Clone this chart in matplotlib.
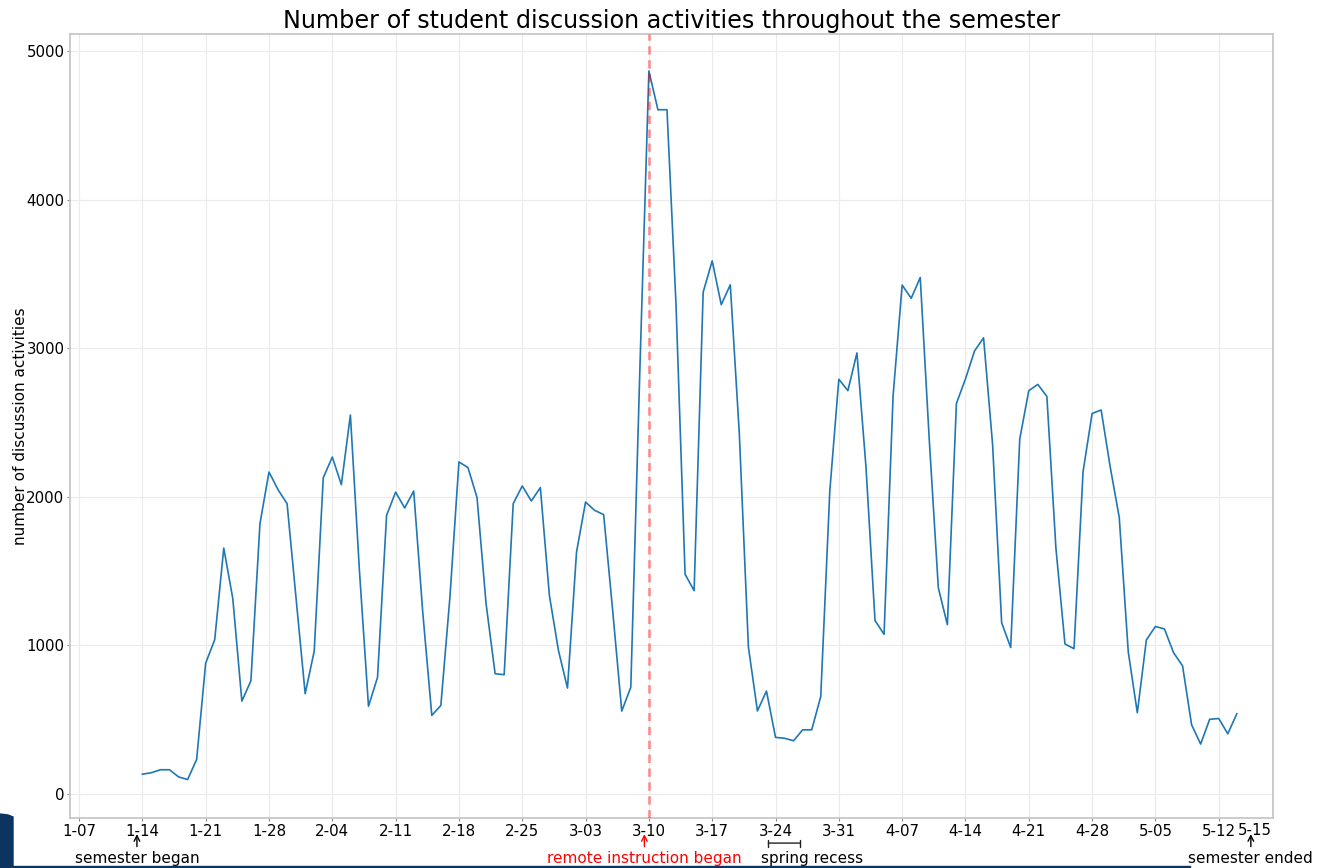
import numpy as np
import pandas as pd
import matplotlib
matplotlib.use('Agg')
import matplotlib.pyplot as plt
import matplotlib.dates as mdates
from matplotlib.patches import Polygon, Rectangle

# daily counts, 2020-01-14 .. 2020-05-14
jan = [130, 140, 160, 160, 112, 94, 229, 878, 1036, 1653, 1312, 622, 759, 1817,
       2165, 2046, 1952, 1310]
feb = [672, 959, 2127, 2266, 2080, 2549, 1500, 588, 782, 1873, 2030, 1923, 2037,
       1220, 526, 593, 1320, 2233, 2195, 1993, 1278, 807, 800, 1952, 2071, 1970,
       2060, 1334, 964]
mar = [710, 1626, 1963, 1907, 1878, 1230, 555, 716, 2850, 4866, 4605, 4605, 3292,
       1477, 1366, 3376, 3587, 3292, 3426, 2421, 988, 556, 690, 378, 372, 355,
       429, 429, 653, 2036, 2790]
apr = [2713, 2967, 2200, 1165, 1072, 2680, 3424, 3335, 3475, 2380, 1385, 1137,
       2627, 2792, 2980, 3069, 2350, 1150, 983, 2387, 2713, 2755, 2674, 1652,
       1007, 975, 2167, 2559, 2583, 2200]
may = [1860, 953, 544, 1034, 1125, 1108, 949, 860, 463, 333, 500, 505, 402, 537]

counts = jan + feb + mar + apr + may
dates = pd.date_range('2020-01-14', periods=len(counts), freq='D')

tick_dates = pd.date_range('2020-01-07', '2020-05-12', freq='7D')
tick_labels = [d.strftime('%-m-%d') for d in tick_dates]

remote_day = pd.Timestamp('2020-03-10')
start_day = pd.Timestamp('2020-01-14')
end_day = pd.Timestamp('2020-05-15')
recess_start = pd.Timestamp('2020-03-23')
recess_end = pd.Timestamp('2020-03-27')

plt.rcParams['font.family'] = 'DejaVu Sans'
fig = plt.figure(figsize=(13.17, 8.68), dpi=100)
ax = fig.add_axes([70 / 1317, 1 - 818 / 868, (1273 - 70) / 1317, (818 - 34) / 868])

ax.plot(dates, counts, color='#1f77b4', lw=1.2, zorder=3)
ax.axvline(remote_day, color='red', alpha=0.4, lw=2, ls=(0, (3, 2)), zorder=4)

ax.set_xlim(mdates.date2num(pd.Timestamp('2020-01-06')), mdates.date2num(pd.Timestamp('2020-05-18')))
ax.set_ylim(-165, 5115)
ax.set_xticks(tick_dates)
ax.set_xticklabels(tick_labels)
ax.set_yticks([0, 1000, 2000, 3000, 4000, 5000])
ax.tick_params(labelsize=10.8, length=2, pad=2, color='#888888')
ax.grid(True, color='#ebebeb', lw=0.8)
ax.set_axisbelow(True)
for s in ax.spines.values():
    s.set_color('#c4c4c4')
    s.set_linewidth(1.2)

ax.set_title('Number of student discussion activities throughout the semester', fontsize=17.2, pad=4)
ax.set_ylabel('number of discussion activities', fontsize=11, labelpad=-1)

# annotations below the axis
tr = ('data', 'axes fraction')
def note(x, label, color='black'):
    ax.annotate('', xy=(x, -0.017), xycoords=tr, xytext=(x, -0.040), textcoords=tr,
                arrowprops=dict(arrowstyle='->', color=color, lw=1), annotation_clip=False)
    ax.annotate(label, xy=(x, -0.052), xycoords=tr, ha='center', va='center',
                fontsize=11, color=color, annotation_clip=False)

note(mdates.date2num(start_day) - 0.6, 'semester began')
note(mdates.date2num(remote_day) - 0.5, 'remote instruction began', color='red')
note(mdates.date2num(end_day) + 0.55, 'semester ended')

ax.annotate('5-15', xy=(mdates.date2num(end_day) + 1, 0), xycoords=tr, xytext=(0, -3.3),
            textcoords='offset points', ha='center', va='top', fontsize=10.8,
            annotation_clip=False)

ax.annotate('', xy=(mdates.date2num(recess_end), -0.032), xycoords=tr,
            xytext=(mdates.date2num(recess_start) - 0.1, -0.032), textcoords=tr,
            arrowprops=dict(arrowstyle='|-|, widthA=0.25, widthB=0.25', color='#222222', lw=1),
            annotation_clip=False)
ax.annotate('spring recess', xy=(mdates.date2num(recess_start) - 0.65, -0.052), xycoords=tr,
            ha='left', va='center', fontsize=11, annotation_clip=False)

# dark slide edge in the lower left corner
W, H = 1317, 868
pts = [(0, 814), (8, 815), (13, 817), (13, 868), (0, 868)]
fig.patches.append(Polygon([(x / W, 1 - y / H) for x, y in pts], closed=True,
                           transform=fig.transFigure, color='#0d3360', zorder=0))
fig.patches.append(Rectangle((0, 0), 1190 / W, 2 / H, transform=fig.transFigure,
                             color='#0d3360', zorder=0))

fig.savefig('out.png', dpi=100)
